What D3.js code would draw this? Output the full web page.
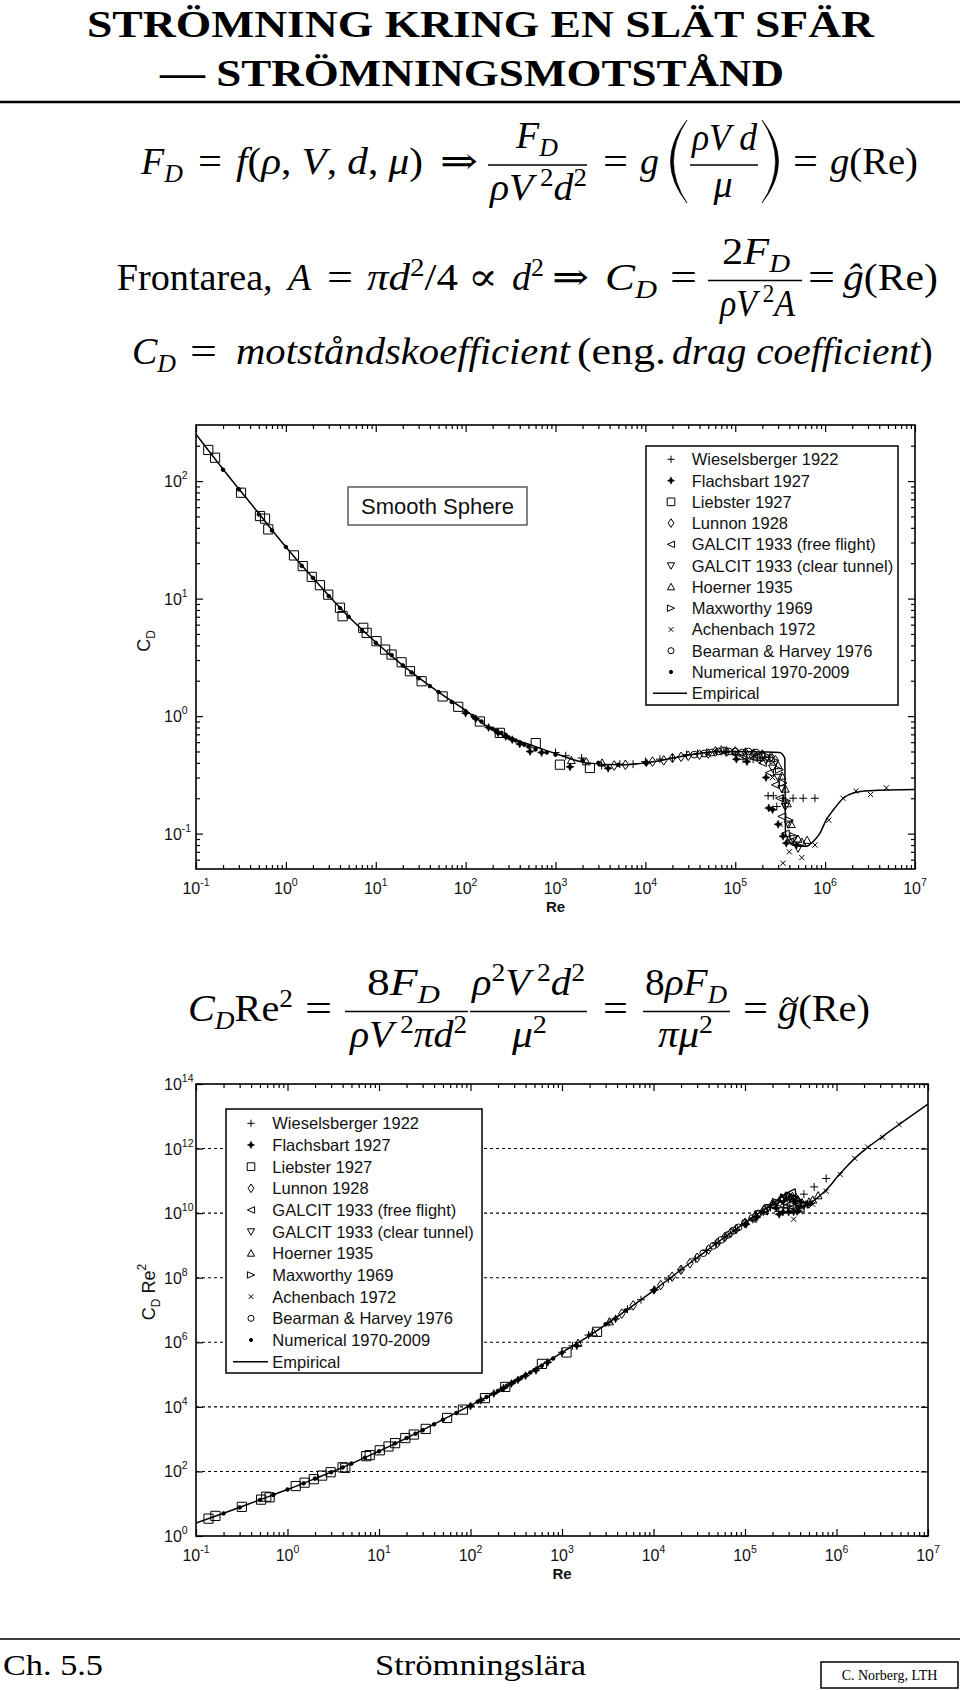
<!DOCTYPE html>
<html><head><meta charset="utf-8">
<script src="https://cdn.jsdelivr.net/npm/d3@7"></script>
<style>body{margin:0;background:#fff}svg{display:block}</style>
</head><body>
<svg id="c" width="960" height="1690"></svg>
<script>
// ---------------- DATA ----------------
const empRe = [0.1,0.2,0.5,1,2,5,10,20,50,100,200,600,1e3,2.2e3,5.3e3,1e4,2.8e4,6.6e4,1e5,2e5,3.1e5,3.56e5,3.62e5,4.2e5,5.2e5,6.2e5,7.4e5,8.7e5,1.03e6,1.28e6,1.59e6,2.05e6,3.14e6,1e7];
const empCD = [250,126,53,27.5,15,7.0,4.25,2.7,1.6,1.12,0.76,0.55,0.48,0.40,0.385,0.40,0.46,0.50,0.50,0.495,0.49,0.44,0.10,0.083,0.078,0.078,0.086,0.10,0.131,0.165,0.20,0.222,0.232,0.237];

const wieselsberger = [[1000,0.49],[1300,0.46],[1950,0.44],[3260,0.38],[5200,0.39],[7300,0.39],[1.0e4,0.41],[1.45e4,0.43],[2e4,0.44],[2.87e4,0.47],[3.8e4,0.48],[4.8e4,0.49],[6.2e4,0.50],[7.9e4,0.49],[1.0e5,0.47],[1.22e5,0.43],[1.58e5,0.43],[1.9e5,0.42],[2.32e5,0.21],[2.65e5,0.21],[2.9e5,0.17],[3.4e5,0.20],[4.4e5,0.20],[5.7e5,0.20],[7.7e5,0.20]];
const flachsbart = [[100,1.06],[130,0.95],[180,0.80],[230,0.72],[280,0.67],[330,0.63],[400,0.58],[520,0.50],[700,0.49],[1450,0.37],[3850,0.36],[1.03e4,0.40],[1.03e5,0.43],[1.35e5,0.41],[2.2e5,0.30],[2.36e5,0.165],[2.6e5,0.16],[3.0e5,0.12],[3.4e5,0.095],[3.7e5,0.083],[4.8e5,0.08]];
const liebster = [[0.137,184],[0.163,158],[0.317,79.6],[0.515,50.4],[0.586,47.9],[0.637,38.8],[1.23,23.3],[1.54,18.9],[1.94,15.3],[2.39,13.0],[2.96,10.8],[4.0,8.36],[4.28,7.08],[7.26,5.64],[7.92,5.11],[10.2,4.34],[12.7,3.68],[15.0,3.34],[19.4,2.87],[24.0,2.41],[32.4,1.98],[55.5,1.47],[82.7,1.20],[144,0.90],[240,0.72],[603,0.589],[1120,0.386],[2415,0.362]];
const lunnon = [[4.5e3,0.38],[6e3,0.385],[1.2e4,0.41],[1.6e4,0.42],[2e4,0.44],[2.5e4,0.45],[3e4,0.46],[4e4,0.47],[5e4,0.48],[6e4,0.50],[7e4,0.51],[8e4,0.50],[1e5,0.50],[1.3e5,0.49],[1.6e5,0.48],[2e5,0.47],[2.5e5,0.45],[2.8e5,0.42]];
const galcitFree = [[1.2e5,0.46],[1.6e5,0.44],[2e5,0.40],[2.4e5,0.33],[2.8e5,0.26],[3.1e5,0.20],[3.3e5,0.14],[3.6e5,0.10],[4e5,0.085]];
const galcitTunnel = [[1.4e5,0.47],[1.8e5,0.45],[2.2e5,0.42],[2.6e5,0.36],[3e5,0.30],[3.3e5,0.24],[3.6e5,0.17],[3.9e5,0.12],[4.4e5,0.09],[5e5,0.075]];
const hoerner = [[1.5e3,0.42],[2.2e3,0.41],[3.3e3,0.40],[2e5,0.47],[2.5e5,0.44],[3e5,0.38],[3.3e5,0.31],[3.6e5,0.24],[3.8e5,0.18],[4.2e5,0.12],[5e5,0.09],[5.5e5,0.085],[6.3e5,0.088]];
const maxworthy = [[2.2e5,0.46],[2.7e5,0.42],[3.1e5,0.35],[3.4e5,0.27],[3.7e5,0.19],[4e5,0.13],[4.5e5,0.095]];
const achenbach = [[5e4,0.47],[1e5,0.48],[1.6e5,0.46],[2.1e5,0.44],[2.6e5,0.30],[3.15e5,0.12],[3.4e5,0.056],[4e5,0.07],[5.5e5,0.0625],[7.7e5,0.08],[1.1e6,0.13],[1.58e6,0.20],[2.2e6,0.23],[3.2e6,0.215],[4.8e6,0.245]];
const bearman = [[3.5e4,0.47],[4.5e4,0.48],[5.5e4,0.49],[6.5e4,0.50],[7.5e4,0.51],[8.5e4,0.50],[1e5,0.50],[1.2e5,0.49],[1.4e5,0.50],[1.7e5,0.49]];
const numerical = [[0.2,125],[0.3,85],[0.5,52],[0.7,38],[1,27.5],[1.5,19],[2,15],[3,10.5],[4,8.3],[5,7],[7,5.4],[10,4.2],[15,3.3],[20,2.7],[25,2.35],[30,2.1],[40,1.8],[50,1.6],[70,1.32],[100,1.1],[120,1.0],[150,0.9],[200,0.78],[220,0.75],[250,0.72],[280,0.69],[300,0.66],[330,0.64],[360,0.62],[400,0.6],[450,0.57],[500,0.55],[600,0.52],[800,0.49],[1000,0.47],[2000,0.42],[3000,0.40],[5000,0.385],[1e4,0.40]];

const legendNames = ["Wieselsberger 1922","Flachsbart 1927","Liebster 1927","Lunnon 1928","GALCIT 1933 (free flight)","GALCIT 1933 (clear tunnel)","Hoerner 1935","Maxworthy 1969","Achenbach 1972","Bearman & Harvey 1976","Numerical 1970-2009"];
const legendEmpirical = "Empirical";
const xTickExps = [-1,0,1,2,3,4,5,6,7];
const topYTickExps = [-1,0,1,2];
const botYTickExps = [0,2,4,6,8,10,12,14];

// ---------------- SETUP ----------------
const SANS = "'Liberation Sans', Arial, Helvetica, sans-serif";
const SERIF = "'Liberation Serif','DejaVu Serif','Times New Roman',serif";
const svg = d3.select('#c');
const series = [
  {data: wieselsberger, sym:'plus'},
  {data: flachsbart, sym:'star'},
  {data: liebster, sym:'square'},
  {data: lunnon, sym:'diamond'},
  {data: galcitFree, sym:'ltri'},
  {data: galcitTunnel, sym:'dtri'},
  {data: hoerner, sym:'utri'},
  {data: maxworthy, sym:'rtri'},
  {data: achenbach, sym:'x'},
  {data: bearman, sym:'circle'},
  {data: numerical, sym:'dot'}
];

function symPath(t, s) {
  switch (t) {
    case 'plus': return `M${-s},0H${s}M0,${-s}V${s}`;
    case 'star': { const a = s*0.32; return `M0,${-s}L${a},${-a}L${s},0L${a},${a}L0,${s}L${-a},${a}L${-s},0L${-a},${-a}Z`; }
    case 'square': return `M${-s},${-s}H${s}V${s}H${-s}Z`;
    case 'diamond': return `M0,${-s*1.2}L${s*0.8},0L0,${s*1.2}L${-s*0.8},0Z`;
    case 'ltri': return `M${-s},0L${s},${-s*0.9}L${s},${s*0.9}Z`;
    case 'dtri': return `M${-s},${-s*0.8}L${s},${-s*0.8}L0,${s}Z`;
    case 'utri': return `M${-s},${s*0.8}L${s},${s*0.8}L0,${-s}Z`;
    case 'rtri': return `M${s},0L${-s},${-s*0.9}L${-s},${s*0.9}Z`;
    case 'x': { const b = s*0.65; return `M${-b},${-b}L${b},${b}M${-b},${b}L${b},${-b}`; }
    case 'circle': { const r = s*0.85; return `M${r},0A${r},${r} 0 1,1 ${-r},0A${r},${r} 0 1,1 ${r},0Z`; }
    case 'dot': { const r = s*0.45; return `M${r},0A${r},${r} 0 1,1 ${-r},0A${r},${r} 0 1,1 ${r},0Z`; }
  }
}
function symStyle(sel, t) {
  const filled = (t === 'star' || t === 'dot');
  sel.attr('fill', filled ? '#000' : 'none').attr('stroke', '#000').attr('stroke-width', t==='star'?0.6:1);
}

function axisG(g, scale, orient, values, size, pos) {
  const gen = {bottom: d3.axisBottom, top: d3.axisTop, left: d3.axisLeft, right: d3.axisRight}[orient];
  const ax = gen(scale).tickValues(values).tickSize(-size).tickSizeOuter(0).tickFormat('');
  const gg = g.append('g').attr('transform', (orient==='bottom'||orient==='top') ? `translate(0,${pos})` : `translate(${pos},0)`).call(ax);
  gg.select('.domain').remove();
  gg.selectAll('text').remove();
  gg.selectAll('line').attr('stroke', '#000').attr('stroke-width', 1.2);
}

function pow10(sel, e, expSize, dy) {
  sel.append('tspan').text('10');
  sel.append('tspan').attr('font-size', expSize).attr('dy', dy).text(e);
}

function xMinorVals() {
  const v = [];
  for (let e = -1; e < 7; e++) for (let k = 2; k < 10; k++) v.push(k*Math.pow(10, e));
  return v;
}

function drawChart(cfg) {
  const g = svg.append('g');
  const x = d3.scaleLog().domain([0.1, 1e7]).range([cfg.l, cfg.r]);
  const y = d3.scaleLog().domain(cfg.yDomain).range([cfg.b, cfg.t]);
  const clipId = 'clip' + cfg.id;
  svg.append('clipPath').attr('id', clipId).append('rect')
    .attr('x', cfg.l).attr('y', cfg.t).attr('width', cfg.r-cfg.l).attr('height', cfg.b-cfg.t);

  if (cfg.grid) {
    g.append('g').selectAll('line').data(cfg.grid).join('line')
      .attr('x1', cfg.l).attr('x2', cfg.r).attr('y1', d => y(d)).attr('y2', d => y(d))
      .attr('stroke', '#000').attr('stroke-width', 1.1).attr('stroke-dasharray', '3,3');
  }
  const xMaj = xTickExps.map(e => Math.pow(10, e));
  axisG(g, x, 'bottom', xMaj, 7, cfg.b);
  axisG(g, x, 'bottom', xMinorVals(), 4, cfg.b);
  axisG(g, x, 'top', xMaj, 7, cfg.t);
  axisG(g, x, 'top', xMinorVals(), 4, cfg.t);
  axisG(g, y, 'left', cfg.yMajor, 7, cfg.l);
  axisG(g, y, 'right', cfg.yMajor, 7, cfg.r);
  if (cfg.yMinor) {
    axisG(g, y, 'left', cfg.yMinor, 4, cfg.l);
    axisG(g, y, 'right', cfg.yMinor, 4, cfg.r);
  }
  g.append('rect').attr('x', cfg.l).attr('y', cfg.t).attr('width', cfg.r-cfg.l).attr('height', cfg.b-cfg.t)
    .attr('fill', 'none').attr('stroke', '#000').attr('stroke-width', 1.6);

  g.append('g').selectAll('text').data(xTickExps).join('text')
    .attr('x', e => x(Math.pow(10, e))).attr('y', cfg.b + 25)
    .attr('text-anchor', 'middle').attr('font-family', SANS).attr('font-size', 16).attr('fill', '#111')
    .each(function(e) { pow10(d3.select(this), e, 10.5, -8); });
  g.append('g').selectAll('text').data(cfg.yLabelExps).join('text')
    .attr('x', 164).attr('y', e => y(Math.pow(10, e)) + 6)
    .attr('font-family', SANS).attr('font-size', 16).attr('fill', '#111')
    .each(function(e) { pow10(d3.select(this), e, 10.5, -8); });

  g.append('text').attr('x', (cfg.l+cfg.r)/2).attr('y', cfg.b + 43).attr('text-anchor', 'middle')
    .attr('font-family', SANS).attr('font-size', 15).attr('font-weight', 'bold').attr('fill', '#111').text('Re');
  const yt = g.append('text').attr('transform', `translate(${cfg.ylabX},${cfg.ylabY}) rotate(-90)`)
    .attr('text-anchor', 'middle').attr('font-family', SANS).attr('font-size', 18).attr('fill', '#111');
  yt.append('tspan').text('C');
  yt.append('tspan').attr('font-size', 12).attr('dy', 5).text('D');
  if (cfg.re2) {
    yt.append('tspan').attr('dy', -5).text(' Re');
    yt.append('tspan').attr('font-size', 12).attr('dy', -9).text('2');
  }

  const pg = g.append('g').attr('clip-path', `url(#${clipId})`);
  const emp = empRe.map((r, i) => [r, cfg.val(r, empCD[i])]);
  pg.append('path').datum(emp)
    .attr('d', d3.line().x(d => x(d[0])).y(d => y(d[1])).curve(d3.curveMonotoneX))
    .attr('fill', 'none').attr('stroke', '#000').attr('stroke-width', 1.5);
  series.forEach(s => {
    const size = s.sym === 'square' ? 4.6 : 4;
    pg.append('g').selectAll('path').data(s.data).join('path')
      .attr('transform', d => `translate(${x(d[0])},${y(cfg.val(d[0], d[1]))})`)
      .attr('d', symPath(s.sym, size))
      .call(symStyle, s.sym);
  });

  const L = cfg.legend;
  const lg = g.append('g');
  lg.append('rect').attr('x', L.x0).attr('y', L.y0).attr('width', L.x1-L.x0).attr('height', L.y1-L.y0)
    .attr('fill', '#fff').attr('stroke', '#000').attr('stroke-width', 1.5);
  legendNames.forEach((name, i) => {
    const cy = L.first + i*L.step;
    lg.append('path').attr('transform', `translate(${L.mx},${cy})`)
      .attr('d', symPath(series[i].sym, series[i].sym === 'square' ? 3.8 : 3.6)).call(symStyle, series[i].sym);
    lg.append('text').attr('x', L.tx).attr('y', cy + 6).attr('font-family', SANS).attr('font-size', 16.5)
      .attr('fill', '#111').text(name);
  });
  const ce = L.first + 11*L.step;
  lg.append('line').attr('x1', L.lx0).attr('x2', L.lx1).attr('y1', ce).attr('y2', ce).attr('stroke', '#000').attr('stroke-width', 1.5);
  lg.append('text').attr('x', L.tx).attr('y', ce + 6).attr('font-family', SANS).attr('font-size', 16.5)
    .attr('fill', '#111').text(legendEmpirical);
  return g;
}

const topMinor = [];
for (let e = -2; e <= 2; e++) for (let k = 2; k < 10; k++) { const v = k*Math.pow(10, e); if (v > 0.05 && v < 300) topMinor.push(v); }
drawChart({
  id: 'top', l: 196, r: 915, t: 425, b: 869, yDomain: [0.05, 300],
  yMajor: topYTickExps.map(e => Math.pow(10, e)), yMinor: topMinor, yLabelExps: topYTickExps,
  val: (re, cd) => cd, ylabX: 150, ylabY: 641, re2: false,
  legend: {x0: 646, x1: 898, y0: 446, y1: 705, first: 459.3, step: 21.27, mx: 671, tx: 691.7, lx0: 653, lx1: 687}
});
svg.append('rect').attr('x', 348).attr('y', 487).attr('width', 179).attr('height', 38)
  .attr('fill', '#fff').attr('stroke', '#333').attr('stroke-width', 1.2);
svg.append('text').attr('x', 437.5).attr('y', 514).attr('text-anchor', 'middle').attr('font-family', SANS)
  .attr('font-size', 22).attr('fill', '#111').text('Smooth Sphere');

drawChart({
  id: 'bot', l: 196, r: 928, t: 1084, b: 1536, yDomain: [1, 1e14],
  yMajor: botYTickExps.map(e => Math.pow(10, e)), yMinor: null, yLabelExps: botYTickExps,
  grid: [2,4,6,8,10,12].map(e => Math.pow(10, e)),
  val: (re, cd) => cd*re*re, ylabX: 155, ylabY: 1292, re2: true,
  legend: {x0: 226, x1: 482, y0: 1109, y1: 1373, first: 1123.3, step: 21.67, mx: 251, tx: 272.3, lx0: 233, lx1: 268}
});

// ---------------- TEXT / MATH ----------------
function m(x, y, segs, o = {}) {
  const size = o.size || 38;
  const t = svg.append('text').attr('x', x).attr('y', y).attr('font-family', SERIF).attr('font-size', size).attr('fill', '#000');
  if (o.anchor) t.attr('text-anchor', o.anchor);
  if (o.bold) t.attr('font-weight', 'bold');
  let cur = 0;
  const small = size*0.68;
  segs.forEach(([s, k]) => {
    const target = k === 'b' ? 8 : k === 'p' ? -14 : 0;
    const ts = t.append('tspan').attr('dy', target - cur).text(s);
    cur = target;
    if (k === 'b' || k === 'p') ts.attr('font-size', small);
    if (k === 'i' || k === 'b') ts.attr('font-style', 'italic');
  });
  if (o.len) t.attr('textLength', o.len).attr('lengthAdjust', 'spacingAndGlyphs');
  return t;
}
function bar(x1, x2, y) {
  svg.append('line').attr('x1', x1).attr('x2', x2).attr('y1', y).attr('y2', y).attr('stroke', '#000').attr('stroke-width', 1.6);
}

m(87, 37, [['STRÖMNING KRING EN SLÄT SFÄR', 'r']], {bold: true, len: 787, size: 38});
m(160, 86, [['— STRÖMNINGSMOTSTÅND', 'r']], {bold: true, len: 624, size: 38});
svg.append('line').attr('x1', 0).attr('x2', 960).attr('y1', 102).attr('y2', 102).attr('stroke', '#000').attr('stroke-width', 2.5);

// Formula 1
m(141, 174, [['F', 'i'], ['D', 'b']]);
m(198, 174, [['=', 'r']], {len: 24});
m(236, 174, [['f', 'i'], ['(', 'r'], ['ρ', 'i'], [', ', 'r'], ['V', 'i'], [', ', 'r'], ['d', 'i'], [', ', 'r'], ['μ', 'i'], [')', 'r']], {len: 187});
m(440, 174, [['⇒', 'r']], {len: 38});
bar(488, 587, 165);
m(537, 148, [['F', 'i'], ['D', 'b']], {anchor: 'middle'});
m(490, 200, [['ρ', 'i'], ['V', 'i'], [' 2', 'p'], ['d', 'i'], ['2', 'p']], {len: 97});
m(603, 174, [['=', 'r']], {len: 25});
m(640, 174, [['g', 'i']]);
svg.append('path').attr('d', 'M687,120 Q654,161.5 687,203 Q660,161.5 687,120 Z').attr('fill', '#000').attr('stroke', '#000').attr('stroke-width', 0.6);
bar(690, 758, 165);
m(692, 150, [['ρ', 'i'], ['V', 'i'], [' d', 'i']], {len: 65});
m(723, 197, [['μ', 'i']], {anchor: 'middle'});
svg.append('path').attr('d', 'M762,120 Q795,161.5 762,203 Q789,161.5 762,120 Z').attr('fill', '#000').attr('stroke', '#000').attr('stroke-width', 0.6);
m(793, 174, [['=', 'r']], {len: 25});
m(830, 174, [['g', 'i'], ['(Re)', 'r']], {len: 88});

// Formula 2
m(116.7, 290, [['Frontarea,', 'r']], {len: 156});
m(288, 290, [['A', 'i']]);
m(327, 290, [['=', 'r']], {len: 26});
m(367, 290, [['π', 'i'], ['d', 'i'], ['2', 'p'], ['/4', 'r']], {len: 91});
m(468, 290, [['∝', 'r']], {len: 30});
m(512, 290, [['d', 'i'], ['2', 'p']]);
m(552, 290, [['⇒', 'r']], {len: 37});
m(605, 290, [['C', 'i'], ['D', 'b']], {len: 52});
m(670, 290, [['=', 'r']], {len: 27});
bar(708, 802, 280.5);
m(722, 264, [['2', 'r'], ['F', 'i'], ['D', 'b']], {len: 68});
m(720, 316, [['ρ', 'i'], ['V', 'i'], [' 2', 'p'], ['A', 'i']], {len: 75});
m(808, 290, [['=', 'r']], {len: 27});
m(843, 290, [['ĝ', 'i'], ['(Re)', 'r']], {len: 95});

// Formula 3
m(132, 364, [['C', 'i'], ['D', 'b']]);
m(190, 364, [['=', 'r']], {len: 27});
m(236, 364, [['motståndskoefficient', 'i']], {len: 334});
m(577, 364, [['(eng.', 'r']], {len: 89});
m(672, 364, [['drag coefficient', 'i']], {len: 248});
m(920, 364, [[')', 'r']]);

// Formula 4
m(188, 1021, [['C', 'i'], ['D', 'b'], ['Re', 'r'], ['2', 'p']], {len: 105});
m(305, 1021, [['=', 'r']], {len: 27});
bar(345, 468, 1011.5);
m(367, 995, [['8', 'r'], ['F', 'i'], ['D', 'b']], {len: 73});
m(350, 1047, [['ρ', 'i'], ['V', 'i'], [' 2', 'p'], ['π', 'i'], ['d', 'i'], ['2', 'p']], {len: 117});
bar(470, 587, 1011.5);
m(472, 995, [['ρ', 'i'], ['2', 'p'], ['V', 'i'], [' 2', 'p'], ['d', 'i'], ['2', 'p']], {len: 113});
m(512, 1047, [['μ', 'i'], ['2', 'p']], {len: 35});
m(603, 1021, [['=', 'r']], {len: 25});
bar(643, 730, 1011.5);
m(645, 995, [['8', 'r'], ['ρ', 'i'], ['F', 'i'], ['D', 'b']], {len: 82});
m(658, 1047, [['π', 'i'], ['μ', 'i'], ['2', 'p']], {len: 55});
m(743, 1021, [['=', 'r']], {len: 25});
m(778, 1021, [['g', 'i'], ['(Re)', 'r']], {len: 92});
// tilde accent over g
svg.append('path').attr('d', 'M783,1003 C785,997 789,997 791,1000 C793,1003 796,1003 798,997')
  .attr('fill', 'none').attr('stroke', '#000').attr('stroke-width', 1.6);

// Footer
svg.append('line').attr('x1', 0).attr('x2', 960).attr('y1', 1639).attr('y2', 1639).attr('stroke', '#000').attr('stroke-width', 1.6);
m(3, 1675, [['Ch. 5.5', 'r']], {size: 30, len: 100});
m(375, 1675, [['Strömningslära', 'r']], {size: 30, len: 211});
svg.append('rect').attr('x', 821).attr('y', 1662).attr('width', 137).attr('height', 26).attr('fill', 'none').attr('stroke', '#000').attr('stroke-width', 1.5);
m(889.5, 1680, [['C. Norberg, LTH', 'r']], {size: 14, anchor: 'middle'});
</script>
</body></html>
